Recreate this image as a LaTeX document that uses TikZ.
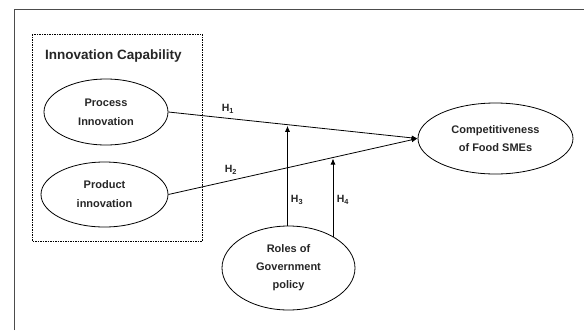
\documentclass[tikz,border=0pt]{standalone}
\usepackage{fontspec}
\setmainfont{Liberation Sans}
\usetikzlibrary{shapes.geometric,arrows.meta}
\begin{document}
\begin{tikzpicture}[x=1pt,y=-1pt,
  oval/.style={draw, ellipse, line width=0.8pt, inner sep=0pt, align=center, font=\bfseries\fontsize{11}{18}\selectfont, text=black!85},
  lbl/.style={font=\bfseries\fontsize{10.5}{12}\selectfont, text=black!85, inner sep=1pt},
  arr/.style={-{Latex[length=6pt,width=5pt]}, line width=0.8pt}]
\useasboundingbox (0,0) rectangle (584,330);
\draw[line width=1pt, black!70] (14,330) -- (14,9) -- (584,9);
\draw[line width=0.7pt, dash pattern=on 1.5pt off 1pt] (32,34) rectangle (202,241);
\node[anchor=west, inner sep=0pt, font=\bfseries\fontsize{13.5}{16}\selectfont, text=black!85] (title) at (45,56) {Innovation Capability};
\node[oval, minimum width=124, minimum height=66] (proc) at (106,112) {Process\\[1pt]Innovation};
\node[oval, minimum width=127, minimum height=65] (prod) at (104.5,194.5) {Product\\[1pt]innovation};
\node[oval, minimum width=133, minimum height=84] (gov) at (288.5,268) {Roles of\\Government\\policy};
\node[oval, minimum width=155, minimum height=71] (comp) at (495.5,138.5) {Competitiveness\\of Food SMEs};
\coordinate (m1) at (287.5,125.8);
\coordinate (m2) at (333,158.5);
\path (gov.center) ++(44.5,-31) coordinate (g4);
\draw[arr] (proc.east) -- (comp.west);
\draw[arr] (prod.east) -- (comp.west);
\draw[arr] (gov.north -| m1) -- (m1);
\draw[arr] (g4) -- (m2);
\node[lbl] (h1) at (228,109) {H\textsubscript{1}};
\node[lbl] (h2) at (231,170) {H\textsubscript{2}};
\node[lbl] (h3) at (297,200) {H\textsubscript{3}};
\node[lbl] (h4) at (343,200) {H\textsubscript{4}};
\end{tikzpicture}
\end{document}
